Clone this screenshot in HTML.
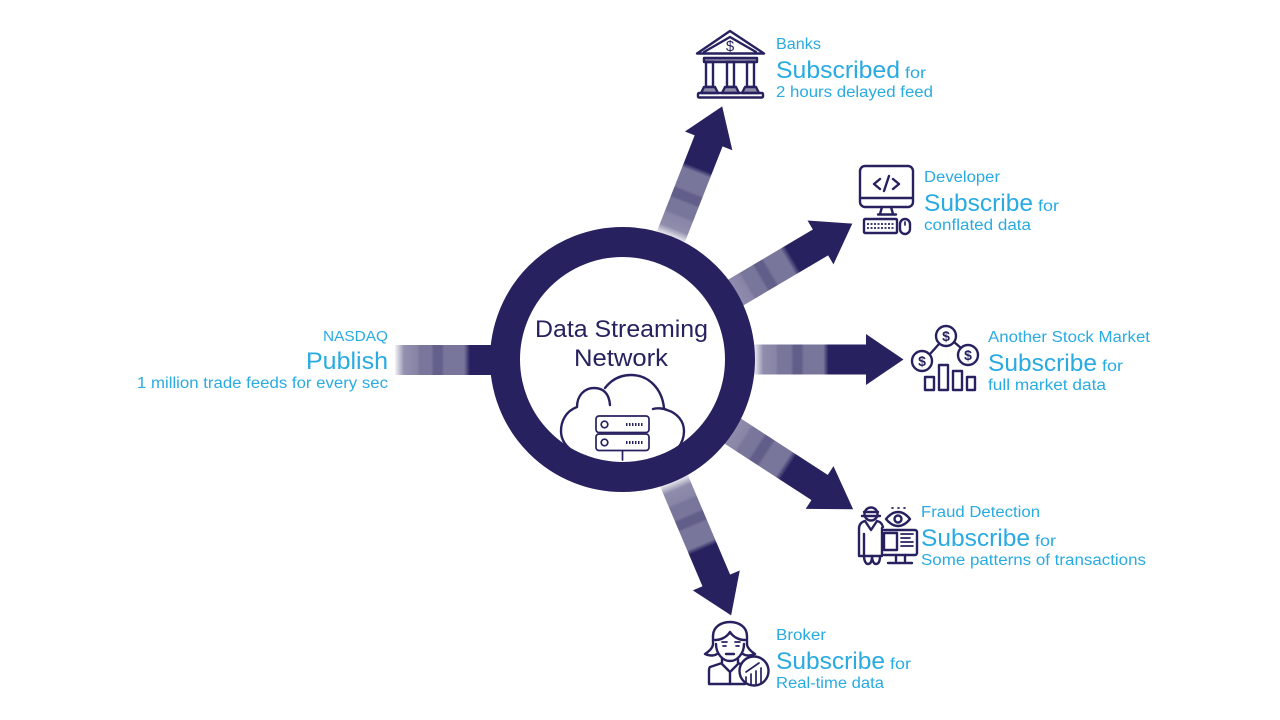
<!DOCTYPE html>
<html>
<head>
<meta charset="utf-8">
<style>
html,body{margin:0;padding:0;background:#fff;width:1280px;height:720px;overflow:hidden}
svg{display:block}
text{font-family:"Liberation Sans",sans-serif}
.t{fill:#29abe2}
.ic{fill:none;stroke:#27225f;stroke-width:2.4;stroke-linecap:round;stroke-linejoin:round}
.thin{stroke-width:1.7}
</style>
</head>
<body>
<svg width="1280" height="720" viewBox="0 0 1280 720" xmlns="http://www.w3.org/2000/svg">
<defs>
<linearGradient id="g" gradientUnits="userSpaceOnUse" x1="132" y1="0" x2="206" y2="0">
<stop offset="0" stop-color="#27225f" stop-opacity=".1"/>
<stop offset=".12" stop-color="#27225f" stop-opacity=".52"/>
<stop offset=".28" stop-color="#27225f" stop-opacity=".55"/>
<stop offset=".32" stop-color="#27225f" stop-opacity=".62"/>
<stop offset=".49" stop-color="#27225f" stop-opacity=".62"/>
<stop offset=".53" stop-color="#27225f" stop-opacity=".73"/>
<stop offset=".63" stop-color="#27225f" stop-opacity=".73"/>
<stop offset=".67" stop-color="#27225f" stop-opacity=".62"/>
<stop offset=".93" stop-color="#27225f" stop-opacity=".62"/>
<stop offset="1" stop-color="#27225f" stop-opacity="1"/>
</linearGradient>
<linearGradient id="g2" gradientUnits="userSpaceOnUse" x1="122" y1="0" x2="198" y2="0">
<stop offset="0" stop-color="#27225f" stop-opacity=".1"/>
<stop offset=".12" stop-color="#27225f" stop-opacity=".52"/>
<stop offset=".28" stop-color="#27225f" stop-opacity=".55"/>
<stop offset=".32" stop-color="#27225f" stop-opacity=".62"/>
<stop offset=".49" stop-color="#27225f" stop-opacity=".62"/>
<stop offset=".53" stop-color="#27225f" stop-opacity=".73"/>
<stop offset=".63" stop-color="#27225f" stop-opacity=".73"/>
<stop offset=".67" stop-color="#27225f" stop-opacity=".62"/>
<stop offset=".92" stop-color="#27225f" stop-opacity=".62"/>
<stop offset="1" stop-color="#27225f" stop-opacity="1"/>
</linearGradient>
<linearGradient id="gl" gradientUnits="userSpaceOnUse" x1="395" y1="0" x2="470" y2="0">
<stop offset="0" stop-color="#27225f" stop-opacity=".05"/>
<stop offset=".12" stop-color="#27225f" stop-opacity=".5"/>
<stop offset=".3" stop-color="#27225f" stop-opacity=".56"/>
<stop offset=".33" stop-color="#27225f" stop-opacity=".62"/>
<stop offset=".48" stop-color="#27225f" stop-opacity=".62"/>
<stop offset=".52" stop-color="#27225f" stop-opacity=".72"/>
<stop offset=".62" stop-color="#27225f" stop-opacity=".72"/>
<stop offset=".66" stop-color="#27225f" stop-opacity=".62"/>
<stop offset=".92" stop-color="#27225f" stop-opacity=".62"/>
<stop offset="1" stop-color="#27225f" stop-opacity="1"/>
</linearGradient>
</defs>

<!-- arrows -->
<g transform="translate(622.5 359.5) rotate(-68.5)">
<rect x="125" y="-15" width="112" height="30" fill="url(#g)"/>
<polygon points="235,-25.5 272,0 235,25.5" fill="#27225f"/>
</g>
<g transform="translate(622.5 359.5) rotate(-30.6)">
<rect x="125" y="-15" width="107" height="30" fill="url(#g2)"/>
<polygon points="230,-25.5 267,0 230,25.5" fill="#27225f"/>
</g>
<g transform="translate(622.5 359.5)">
<rect x="125" y="-15" width="120" height="30" fill="url(#g)"/>
<polygon points="243.5,-25.5 281,0 243.5,25.5" fill="#27225f"/>
</g>
<g transform="translate(622.5 359.5) rotate(33)">
<rect x="125" y="-15" width="112" height="30" fill="url(#g2)"/>
<polygon points="235,-25.5 275,0 235,25.5" fill="#27225f"/>
</g>
<g transform="translate(622.5 359.5) rotate(67)">
<rect x="125" y="-15" width="117" height="30" fill="url(#g)"/>
<polygon points="240,-25.5 278,0 240,25.5" fill="#27225f"/>
</g>
<rect x="395" y="345" width="100" height="30" fill="url(#gl)"/>

<!-- cloud -->
<g class="ic" stroke-width="2.6">
<path d="M610 405C609 392 602 388 594 388C584 388 577 396 577 407C566 411 561 421 561 431C561 438 564 444 570 449"/>
<path d="M605 388C612 379 621 375 631 375C649 375 662 389 664 408"/>
<path d="M653 409C657 408 663 408 667 410C677 413 684 421 684 431C684 437 682 443 678 448"/>
</g>
<g class="ic thin">
<rect x="596" y="416" width="53" height="16.5" rx="3"/>
<rect x="596" y="434" width="53" height="16.5" rx="3"/>
<circle cx="604.5" cy="424.5" r="3.3"/>
<circle cx="604.5" cy="442.5" r="3.3"/>
<path d="M626 424.500h18M626 442.500h18" stroke-dasharray="1.500 1.500" stroke-linecap="butt" stroke-width="3"/>
<path d="M622.500 451v9"/>
</g>

<!-- ring -->
<circle cx="622.5" cy="359.5" r="117.500" fill="none" stroke="#27225f" stroke-width="30"/>

<!-- center label -->
<text x="535" y="337" font-size="24" fill="#27225f" textLength="173" lengthAdjust="spacingAndGlyphs">Data Streaming</text>
<text x="574" y="366" font-size="24" fill="#27225f" textLength="94" lengthAdjust="spacingAndGlyphs">Network</text>

<!-- NASDAQ -->
<text class="t" x="323" y="341" font-size="15" textLength="65" lengthAdjust="spacingAndGlyphs">NASDAQ</text>
<text class="t" x="306" y="369" font-size="24" textLength="82" lengthAdjust="spacingAndGlyphs">Publish</text>
<text class="t" x="137" y="388" font-size="15.500" textLength="251" lengthAdjust="spacingAndGlyphs">1 million trade feeds for every sec</text>

<!-- Banks -->
<text class="t" x="776" y="49" font-size="15.500" textLength="45" lengthAdjust="spacingAndGlyphs">Banks</text>
<text class="t" x="776" y="78" font-size="24.500" textLength="124" lengthAdjust="spacingAndGlyphs">Subscribed</text>
<text class="t" x="905" y="78" font-size="16" textLength="21" lengthAdjust="spacingAndGlyphs">for</text>
<text class="t" x="776" y="97" font-size="15.500" textLength="157" lengthAdjust="spacingAndGlyphs">2 hours delayed feed</text>

<!-- Developer -->
<text class="t" x="924" y="182" font-size="15.500" textLength="76" lengthAdjust="spacingAndGlyphs">Developer</text>
<text class="t" x="924" y="211" font-size="24.500" textLength="109" lengthAdjust="spacingAndGlyphs">Subscribe</text>
<text class="t" x="1038" y="211" font-size="16" textLength="21" lengthAdjust="spacingAndGlyphs">for</text>
<text class="t" x="924" y="230" font-size="15.500" textLength="107" lengthAdjust="spacingAndGlyphs">conflated data</text>

<!-- Another Stock Market -->
<text class="t" x="988" y="342" font-size="15.500" textLength="162" lengthAdjust="spacingAndGlyphs">Another Stock Market</text>
<text class="t" x="988" y="371" font-size="24.500" textLength="109" lengthAdjust="spacingAndGlyphs">Subscribe</text>
<text class="t" x="1102" y="371" font-size="16" textLength="21" lengthAdjust="spacingAndGlyphs">for</text>
<text class="t" x="988" y="390" font-size="15.500" textLength="118" lengthAdjust="spacingAndGlyphs">full market data</text>

<!-- Fraud -->
<text class="t" x="921" y="517" font-size="15.500" textLength="119" lengthAdjust="spacingAndGlyphs">Fraud Detection</text>
<text class="t" x="921" y="546" font-size="24.500" textLength="109" lengthAdjust="spacingAndGlyphs">Subscribe</text>
<text class="t" x="1035" y="546" font-size="16" textLength="21" lengthAdjust="spacingAndGlyphs">for</text>
<text class="t" x="921" y="565" font-size="15.500" textLength="225" lengthAdjust="spacingAndGlyphs">Some patterns of transactions</text>

<!-- Broker -->
<text class="t" x="776" y="640" font-size="15.500" textLength="50" lengthAdjust="spacingAndGlyphs">Broker</text>
<text class="t" x="776" y="669" font-size="24.500" textLength="109" lengthAdjust="spacingAndGlyphs">Subscribe</text>
<text class="t" x="890" y="669" font-size="16" textLength="21" lengthAdjust="spacingAndGlyphs">for</text>
<text class="t" x="776" y="688" font-size="15.500" textLength="108" lengthAdjust="spacingAndGlyphs">Real-time data</text>

<!-- bank icon -->
<g class="ic">
<path d="M697 53.500L730 31L764 53.500Z"/>
<path d="M704 52L730 37L756 52"/>
<path d="M704 58h53v4h-53z" fill="#8f8cab"/>
<path d="M706 62h7v25h-7zM727 62h7v25h-7zM747 62h7v25h-7z"/>
<path d="M704 87h11l3 6h-17zM725 87h11l3 6h-17zM745 87h11l3 6h-17z" fill="#8f8cab"/>
<rect x="698" y="93" width="65" height="4.500" rx="1"/>
</g>
<text x="730" y="51" font-size="15" text-anchor="middle" fill="#27225f">$</text>

<!-- developer icon -->
<g class="ic">
<rect x="860" y="166" width="53" height="41" rx="5"/>
<path d="M860 198h53"/>
<path d="M882 207l-2 7M891 207l2 7M878 214.500h18"/>
<path d="M880 179l-6 5 6 5M893 179l6 5-6 5M889 176l-5 15"/>
<rect x="864" y="219" width="33" height="14" rx="1"/>
<path class="thin" d="M867 224h27M867 228h27" stroke-dasharray="2 1.500" stroke-linecap="butt"/>
<rect x="900" y="219" width="10" height="15" rx="5"/>
<path class="thin" d="M905 222v3"/>
</g>

<!-- stock market icon -->
<g class="ic">
<circle cx="946" cy="336" r="10"/>
<circle cx="922" cy="361" r="10"/>
<circle cx="968" cy="355" r="10"/>
<path d="M939 344L930 354M954 342L961 348"/>
<rect x="925" y="377" width="9" height="13"/>
<rect x="939" y="365" width="9" height="25"/>
<rect x="953" y="371" width="9" height="19"/>
<rect x="967" y="377" width="8" height="13"/>
</g>
<g font-size="14" text-anchor="middle" fill="#27225f" font-weight="bold">
<text x="946" y="341">$</text>
<text x="922" y="366">$</text>
<text x="968" y="360">$</text>
</g>

<!-- fraud icon -->
<g class="ic">
<circle cx="871" cy="514" r="6.500"/>
<path d="M862 516h18M864 512h14"/>
<path d="M865 521c-4 1-6 4-6 8v27h5v-22M877 521c4 1 5 3 6 6M865 521l6 9 6-9"/>
<path d="M864 556c0 5 2 8 4 8s4-2 4-8M872 556c0 5 2 8 4 8s4-2 4-8"/>
<path d="M864 556h18v-28"/>
<path d="M886 519c4-5 8-7 12-7s8 2 12 7c-4 5-8 7-12 7s-8-2-12-7z"/>
<circle cx="898" cy="519" r="3.500"/>
<path class="thin" d="M892 508h1M898 508h1M904 508h1"/>
<path d="M884 530h31c1 0 2 1 2 2v21c0 1-1 2-2 2h-31"/>
<rect x="884" y="533" width="13" height="17"/>
<path class="thin" d="M901 534h12M901 538h9M901 542h12M901 546h12"/>
<path d="M896 555v6M905 555v6M888 563h24"/>
</g>

<!-- broker icon -->
<g class="ic">
<path d="M713 636c0-9 8-14 17-14s17 5 17 14l0 8"/>
<path d="M713 636l0 8c0 3-3 7-8 10c5 2 9 2 12 0M747 644c0 3 3 7 8 10c-5 2-9 2-12 0"/>
<path d="M715 640c6 0 12-3 15-8c3 5 9 8 15 8"/>
<path d="M716 644c0 10 7 17 14 17s14-7 14-17"/>
<path class="thin" d="M722 642h5M735 642h5M723 646h3M736 646h3"/>
<path d="M726 654h8"/>
<path d="M722 658v5l-12 4c-1 1-1 2-1 4v13h36"/>
<path d="M738 658v5l6 2"/>
<path d="M722 664l8 8 8-8M730 672v12"/>
<circle cx="754" cy="671" r="14.500" fill="#fff"/>
<path class="thin" d="M746 684v-7M751 684v-10M756 684v-13M761 684v-16M746 672l13-9"/>
</g>
</svg>
</body>
</html>
